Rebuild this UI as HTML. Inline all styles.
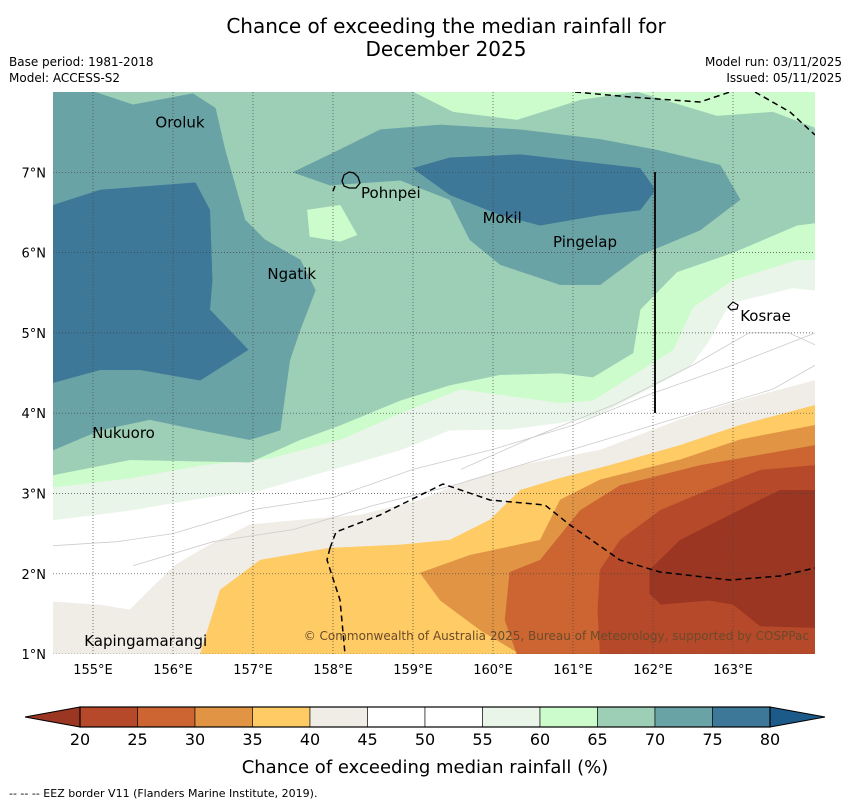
<!DOCTYPE html>
<html><head><meta charset="utf-8">
<style>
body{margin:0;background:#fff;font-family:"Liberation Sans","DejaVu Sans",sans-serif;}
svg text{font-family:"DejaVu Sans","Liberation Sans",sans-serif;}
</style></head>
<body>
<svg id="chart" width="850" height="804" viewBox="0 0 850 804" xmlns="http://www.w3.org/2000/svg">
<text x="446" y="33" font-size="20" text-anchor="middle">Chance of exceeding the median rainfall for</text>
<text x="446" y="56" font-size="20" text-anchor="middle">December 2025</text>
<text x="9" y="66" font-size="12">Base period: 1981-2018</text>
<text x="9" y="82" font-size="12">Model: ACCESS-S2</text>
<text x="842" y="66" font-size="12" text-anchor="end">Model run: 03/11/2025</text>
<text x="842" y="82" font-size="12" text-anchor="end">Issued: 05/11/2025</text>
<defs><clipPath id="mapclip"><rect x="53" y="92" width="762" height="562"/></clipPath></defs>
<g id="map" clip-path="url(#mapclip)"></g>
<g id="overlay"></g>
<g id="cbar"></g>
<text x="425" y="773" font-size="18" text-anchor="middle">Chance of exceeding median rainfall (%)</text>
<text x="9" y="797" font-size="11">--  --  -- EEZ border V11 (Flanders Marine Institute, 2019).</text>
</svg>
<script>
const levels=[20,25,30,35,40,45,50,55,60,65,70,75,80];
const bandColors=["#b5492a","#cc6531","#e09444","#fecb65","#f0ece6","#ffffff","#ffffff","#eaf5e9","#ccfccc","#9ccfb6","#6aa3a6","#3e7898"];
const underColor="#9a3621", overColor="#1c5a8a";
const lonTicks=[155,156,157,158,159,160,161,162,163];
const latTicks=[1,2,3,4,5,6,7];
// contour regions [lon,lat]
const regions=[
 {c:"#eaf5e9",p:[[154.5,8],[164.03,8],[164.03,5.53],[163.75,5.56],[162.96,5.37],[162.68,4.87],[162.46,4.58],[162.0,4.33],[161.25,3.95],[160.84,3.88],[160.2,3.8],[159.46,3.79],[158.84,3.54],[157.96,3.29],[157.09,3.04],[156.34,2.94],[155.46,2.79],[154.5,2.67]]},
 {c:"#ccfccc",p:[[154.5,8],[164.03,8],[164.03,5.91],[163.8,5.91],[163.0,5.66],[162.5,5.32],[162.25,4.79],[162.0,4.63],[161.25,4.16],[160.84,4.13],[159.59,4.3],[158.84,4.0],[158.09,3.67],[157.21,3.44],[156.34,3.35],[155.46,3.19],[154.5,3.08]]},
 {c:"#9ccfb6",p:[[154.5,8],[159.0,8],[159.5,7.75],[160.3,7.65],[161.1,7.9],[161.8,8],[162.8,7.7],[163.5,7.75],[164.03,7.55],[164.03,6.37],[163.8,6.34],[163.0,6.0],[162.3,5.76],[161.84,5.29],[161.75,4.75],[161.25,4.45],[160.84,4.5],[160.09,4.48],[159.46,4.35],[158.84,4.16],[158.09,3.85],[157.59,3.67],[156.96,3.39],[155.46,3.42],[154.5,3.23]]},
 {c:"#6aa3a6",p:[[154.5,8],[155.02,8],[155.5,7.84],[156.25,7.98],[156.53,7.8],[156.65,7.28],[156.9,6.41],[157.15,6.16],[157.59,5.91],[157.78,5.53],[157.59,5.04],[157.46,4.66],[157.34,3.79],[156.96,3.67],[156.34,3.79],[155.71,3.92],[155.09,3.79],[154.5,3.54]]},
 {c:"#6aa3a6",p:[[157.5,7.0],[157.96,7.22],[158.59,7.53],[159.34,7.59],[160.34,7.53],[161.34,7.41],[162.03,7.28],[162.84,7.09],[163.09,6.66],[162.59,6.28],[161.84,5.97],[161.34,5.6],[160.84,5.6],[160.09,5.85],[159.71,6.16],[159.46,6.66],[158.84,6.9],[157.96,6.84]]},
 {c:"#3e7898",p:[[154.5,6.59],[155.09,6.78],[156.28,6.87],[156.46,6.53],[156.49,5.66],[156.46,5.29],[156.94,4.79],[156.34,4.41],[155.59,4.54],[155.09,4.54],[154.5,4.38]]},
 {c:"#3e7898",p:[[159.0,7.05],[159.46,7.18],[160.34,7.22],[161.84,7.05],[162.03,6.78],[161.84,6.53],[161.34,6.47],[160.59,6.34],[160.09,6.47],[159.46,6.72]]},
 {c:"#ccfccc",p:[[157.68,6.53],[158.09,6.59],[158.3,6.22],[158.09,6.14],[157.71,6.2]]},
 {c:"#f0ece6",p:[[154.5,1.65],[155.09,1.61],[155.46,1.55],[155.71,1.8],[156.03,2.11],[156.46,2.36],[156.96,2.61],[157.59,2.67],[158.34,2.73],[159.09,2.92],[159.71,3.17],[160.34,3.35],[161.34,3.54],[162.34,3.92],[163.09,4.16],[164.03,4.41],[164.03,1],[154.5,1]]},
 {c:"#fecb65",p:[[156.34,1],[156.59,1.8],[157.09,2.17],[157.96,2.32],[158.84,2.36],[159.46,2.42],[159.96,2.67],[160.34,3.04],[160.84,3.19],[161.46,3.35],[162.34,3.6],[163.09,3.85],[164.03,4.1],[164.03,1]]},
 {c:"#e09444",p:[[159.09,2.01],[159.71,2.23],[160.59,2.42],[160.84,2.92],[161.34,3.17],[162.34,3.42],[163.09,3.67],[164.03,3.85],[164.03,1],[160.34,1],[159.84,1.3],[159.34,1.67]]},
 {c:"#cc6531",p:[[160.21,2.02],[160.59,2.17],[161.09,2.79],[161.59,3.1],[162.59,3.35],[163.34,3.48],[164.03,3.6],[164.03,1],[160.3,1],[160.15,1.42]]},
 {c:"#b5492a",p:[[161.34,2.05],[161.59,2.42],[162.09,2.79],[162.59,3.0],[163.34,3.29],[164.03,3.35],[164.03,1],[161.34,1],[161.31,1.55]]},
 {c:"#9a3621",p:[[161.96,2.05],[162.34,2.42],[162.84,2.67],[163.34,2.92],[163.59,3.04],[164.03,3.04],[164.03,1.33],[163.34,1.35],[163.0,1.62],[162.7,1.67],[162.1,1.62],[161.96,1.75]]}
];
const thinLines=[
 [[154.5,2.35],[155.3,2.4],[156.0,2.5],[157.0,2.8],[158.0,2.95],[159.0,3.3],[160.0,3.55],[161.0,3.85],[162.0,4.25],[163.0,4.6],[164.03,5.0]],
 [[155.5,2.1],[156.5,2.4],[157.5,2.55],[158.5,2.85],[159.5,3.1],[160.5,3.4],[161.5,3.7],[162.5,4.0],[163.5,4.3],[164.03,4.6]],
 [[159.6,3.3],[160.5,3.7],[161.5,4.1],[162.5,4.6],[163.2,5.0],[163.7,5.0],[164.03,4.85]]
];
const places=[["Oroluk",155.78,7.56],["Pohnpei",158.35,6.68],["Mokil",159.87,6.37],["Pingelap",160.75,6.07],["Ngatik",157.18,5.67],["Kosrae",163.09,5.15],["Nukuoro",154.99,3.69],["Kapingamarangi",154.89,1.1]];
const x0=53,y0=92,lonMin=154.5,latMax=8,pxLon=80,pxLat=80.3;
function X(lon){return x0+(lon-lonMin)*pxLon;}
function Y(lat){return y0+(latMax-lat)*pxLat;}
const NS="http://www.w3.org/2000/svg";
function mk(t,parent,attrs){const e=document.createElementNS(NS,t);for(const k in attrs)e.setAttribute(k,attrs[k]);parent.appendChild(e);return e;}
const map=document.getElementById('map');
const bg=mk('rect',map,{x:53,y:92,width:762,height:562,fill:'#ffffff'});


regions.forEach((r,i)=>{
 const e=mk('polygon',map,{points:r.p.map(q=>X(q[0]).toFixed(1)+','+Y(q[1]).toFixed(1)).join(' '),fill:r.c,stroke:r.c,'stroke-width':0.5});
 
 
});
thinLines.forEach((l,i)=>{
 const e=mk('polyline',map,{points:l.map(q=>X(q[0])+','+Y(q[1])).join(' '),fill:'none',stroke:'#cccccc','stroke-width':0.8});
 
 
});
lonTicks.forEach(v=>{
 const e=mk('line',map,{x1:X(v),x2:X(v),y1:92,y2:654,stroke:'#444','stroke-width':0.7,'stroke-dasharray':'1,2'});
 
 
});
latTicks.forEach(v=>{
 const e=mk('line',map,{x1:53,x2:815,y1:Y(v),y2:Y(v),stroke:'#444','stroke-width':0.7,'stroke-dasharray':'1,2'});
 
 
});
const eez=["M575,92 L630,97 L700,102 L730,92","M755,92 L790,112 L815,135","M330,548 L336,532 L380,515 L443,484 L490,500 L545,505 L570,525 L620,560 L660,572 L730,580 L780,576 L815,568","M330,548 L327,560 L340,600 L345,654","M333,191 L335,186"];
eez.forEach((d,i)=>{
 const e=mk('path',map,{d:d,fill:'none',stroke:'#000','stroke-width':1.5,'stroke-dasharray':'6,4'});
 
 
});
const vline=mk('line',map,{x1:655,x2:655,y1:172,y2:413,stroke:'#111','stroke-width':2});


const pohn=mk('path',map,{d:"M344,175 L349,172 L354,173 L358,177 L360,183 L356,188 L349,188 L344,186 L342,181 Z",fill:'none',stroke:'#000','stroke-width':1.3});


const kos=mk('path',map,{d:"M728,307 L733,302 L738,305 L737,309 L731,310 Z",fill:'none',stroke:'#000','stroke-width':1.2});


places.forEach(p=>{
 const t=mk('text',map,{x:X(p[1]),y:Y(p[2]),'font-size':15,fill:'#000'});
 t.textContent=p[0];
 
 
});
const cr=mk('text',map,{x:809,y:640,'font-size':12,fill:'#6b4a2a','text-anchor':'end'});
cr.textContent="© Commonwealth of Australia 2025, Bureau of Meteorology, supported by COSPPac";


const ov=document.getElementById('overlay');
lonTicks.forEach(v=>{
 const t=mk('text',ov,{x:X(v),y:674,'font-size':13,'text-anchor':'middle'});
 t.textContent=v+"°E";
 
 
});
latTicks.forEach(v=>{
 const t=mk('text',ov,{x:46,y:Y(v)+5,'font-size':13,'text-anchor':'end'});
 t.textContent=v+"°N";
 
 
});
const cb=document.getElementById('cbar');
const cbX0=80,cbX1=770,cbY=707,cbH=20;
function CX(v){return cbX0+(v-levels[0])/(levels[levels.length-1]-levels[0])*(cbX1-cbX0);}
const tl=mk('polygon',cb,{points:`${cbX0},${cbY} ${cbX0},${cbY+cbH} 25,${cbY+cbH/2}`,fill:underColor,stroke:'#000','stroke-width':1});


const tr=mk('polygon',cb,{points:`${cbX1},${cbY} ${cbX1},${cbY+cbH} 825,${cbY+cbH/2}`,fill:overColor,stroke:'#000','stroke-width':1});


bandColors.forEach((c,i)=>{
 const r=mk('rect',cb,{x:CX(levels[i]),y:cbY,width:CX(levels[i+1])-CX(levels[i]),height:cbH,fill:c,stroke:'#000','stroke-width':0.6});
 
 
});
const ob=mk('rect',cb,{x:cbX0,y:cbY,width:cbX1-cbX0,height:cbH,fill:'none',stroke:'#000','stroke-width':1.2});


levels.forEach(v=>{
 const t=mk('text',cb,{x:CX(v),y:745,'font-size':16,'text-anchor':'middle'});
 t.textContent=v;
 
 
});
</script>
</body></html>
